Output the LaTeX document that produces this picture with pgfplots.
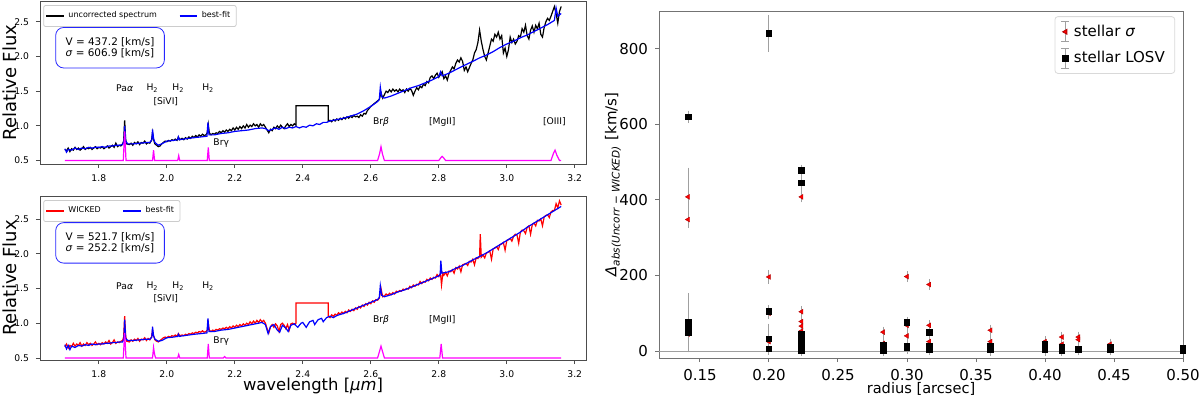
\documentclass[border=0pt]{standalone}
\usepackage{fontspec}
\setmainfont{DejaVu Sans}
\usepackage{pgfplots}
\pgfplotsset{compat=1.18}
\definecolor{mplmag}{RGB}{255,0,255}
\definecolor{mplgray}{RGB}{160,160,160}

\pgfplotsset{
  spec/.style={
    scale only axis, width=273pt,
    xmin=1.627, xmax=3.233,
    xtick={1.8,2.0,2.2,2.4,2.6,2.8,3.0,3.2}, ytick={0.5,1.0,1.5,2.0,2.5},
    tick align=outside, tick pos=left, major tick length=2pt,
    axis line style={black!70, line width=0.4pt}, tick style={black!70, line width=0.4pt},
    ticklabel style={font=\fontsize{4.6}{5}\selectfont},
    /pgf/number format/assume math mode=true,
    xticklabel style={/pgf/number format/.cd, fixed, fixed zerofill, precision=1},
    yticklabel style={/pgf/number format/.cd, fixed, fixed zerofill, precision=1},
    ylabel={Relative Flux},
    every axis y label/.style={at={(rel axis cs:0,0.5)}, xshift=-15pt, rotate=90, anchor=center},
    ylabel style={font=\fontsize{9}{9.5}\selectfont},
    legend columns=2, legend cell align=left,
    legend style={at={(0.006,0.975)}, anchor=north west, font=\fontsize{4}{4.6}\selectfont,
      draw=black!20, rounded corners=1pt, inner sep=1pt,
      /tikz/every even column/.append style={column sep=9pt}},
    legend image code/.code={\draw[#1, line width=0.7pt] (0pt,0pt) -- (8.7pt,0pt);},
  },
}
\tikzset{
  lbl/.style={font=\fontsize{4.6}{5}\selectfont, inner sep=0pt},
  infobox/.style={draw=blue!85, rounded corners=4pt, align=left, anchor=north west,
    inner xsep=5pt, inner ysep=5pt, font=\fontsize{5.2}{5.6}\selectfont},
}

\begin{document}
\begin{tikzpicture}
\useasboundingbox (0,0) rectangle (600pt,198pt);

% top panel: uncorrected spectrum
\begin{axis}[spec, at={(20pt,116pt)}, anchor=south west, height=81.5pt, ymin=0.45, ymax=2.80]
\addplot[black, line width=0.6pt] coordinates {
(1.700,0.66) (1.705,0.64) (1.710,0.68) (1.715,0.63) (1.720,0.67) (1.725,0.65) (1.730,0.69) (1.735,0.66)
(1.740,0.68) (1.745,0.65) (1.750,0.67) (1.755,0.70) (1.760,0.66) (1.765,0.68) (1.770,0.67) (1.775,0.69)
(1.780,0.66) (1.785,0.68) (1.790,0.70) (1.795,0.67) (1.800,0.69) (1.805,0.68) (1.810,0.70) (1.815,0.67)
(1.820,0.69) (1.825,0.71) (1.830,0.68) (1.835,0.70) (1.840,0.72) (1.845,0.69) (1.850,0.75) (1.855,0.70)
(1.860,0.72) (1.865,0.71) (1.870,0.74) (1.873,0.78) (1.876,1.08) (1.879,0.80) (1.882,0.74) (1.890,0.73)
(1.895,0.75) (1.900,0.72) (1.905,0.76) (1.910,0.74) (1.915,0.77) (1.920,0.73) (1.925,0.76) (1.930,0.75)
(1.935,0.78) (1.940,0.74) (1.945,0.76) (1.950,0.75) (1.955,0.79) (1.958,0.90) (1.961,0.80) (1.965,0.74)
(1.970,0.72) (1.975,0.70) (1.980,0.71) (1.985,0.74) (1.990,0.76) (1.995,0.78) (2.000,0.77) (2.005,0.79)
(2.010,0.78) (2.015,0.80) (2.020,0.79) (2.025,0.81) (2.030,0.79) (2.034,0.84) (2.038,0.80) (2.045,0.82)
(2.050,0.80) (2.055,0.83) (2.060,0.81) (2.065,0.84) (2.070,0.82) (2.075,0.85) (2.080,0.83) (2.085,0.86)
(2.090,0.84) (2.095,0.87) (2.100,0.85) (2.105,0.88) (2.110,0.86) (2.115,0.87) (2.119,0.90) (2.122,1.02)
(2.125,0.90) (2.130,0.87) (2.135,0.89) (2.140,0.88) (2.145,0.90) (2.150,0.89) (2.155,0.92) (2.160,0.90)
(2.165,0.93) (2.170,0.91) (2.175,0.94) (2.180,0.92) (2.185,0.95) (2.190,0.93) (2.195,0.97) (2.200,0.94)
(2.205,0.98) (2.210,0.95) (2.215,0.99) (2.220,0.96) (2.225,1.00) (2.230,0.97) (2.235,1.02) (2.240,0.98)
(2.245,1.01) (2.250,0.99) (2.255,1.03) (2.260,1.00) (2.265,1.02) (2.270,0.98) (2.275,1.03) (2.280,1.00)
(2.285,1.02) (2.290,0.98) (2.295,0.94) (2.300,0.90) (2.305,0.95) (2.310,0.93) (2.315,0.98) (2.320,0.96)
(2.325,1.00) (2.330,0.97) (2.335,1.01) (2.340,0.98) (2.345,0.96) (2.350,1.00) (2.355,1.03) (2.360,0.99)
(2.365,1.02) (2.370,1.00) (2.375,1.03) (2.380,1.01) (2.380,1.29) (2.475,1.29) (2.475,1.07) (2.480,1.08)
(2.485,1.06) (2.490,1.09) (2.495,1.07) (2.500,1.10) (2.505,1.08) (2.510,1.11) (2.515,1.09) (2.520,1.12)
(2.525,1.10) (2.530,1.13) (2.535,1.11) (2.540,1.14) (2.545,1.12) (2.550,1.15) (2.555,1.13) (2.560,1.14)
(2.565,1.12) (2.570,1.16) (2.575,1.14) (2.580,1.18) (2.585,1.17) (2.590,1.22) (2.595,1.25) (2.600,1.28)
(2.605,1.30) (2.610,1.32) (2.615,1.34) (2.620,1.36) (2.625,1.38) (2.630,1.48) (2.635,1.40) (2.640,1.45)
(2.645,1.50) (2.650,1.48) (2.655,1.52) (2.660,1.49) (2.665,1.53) (2.670,1.50) (2.675,1.52) (2.680,1.49)
(2.685,1.53) (2.690,1.50) (2.695,1.52) (2.700,1.48) (2.705,1.53) (2.710,1.50) (2.715,1.54) (2.720,1.51)
(2.725,1.44) (2.730,1.50) (2.735,1.55) (2.740,1.52) (2.745,1.57) (2.750,1.55) (2.755,1.60) (2.760,1.58)
(2.765,1.64) (2.770,1.62) (2.775,1.70) (2.780,1.72) (2.785,1.68) (2.790,1.73) (2.795,1.76) (2.800,1.70)
(2.805,1.74) (2.810,1.78) (2.815,1.68) (2.820,1.72) (2.825,1.66) (2.830,1.75) (2.835,1.80) (2.840,1.85)
(2.845,1.82) (2.850,1.90) (2.855,1.95) (2.860,1.92) (2.865,1.98) (2.870,1.93) (2.875,1.80) (2.880,1.85)
(2.885,1.78) (2.890,1.84) (2.895,1.90) (2.900,1.95) (2.905,2.05) (2.910,2.10) (2.915,2.20) (2.920,2.38)
(2.925,2.22) (2.930,2.10) (2.935,2.00) (2.940,1.95) (2.945,2.05) (2.950,2.15) (2.955,2.25) (2.960,2.22)
(2.965,2.32) (2.970,2.28) (2.975,2.35) (2.980,2.25) (2.985,2.30) (2.990,2.05) (2.995,2.12) (3.000,2.00)
(3.005,2.10) (3.010,2.28) (3.015,2.20) (3.020,2.25) (3.025,2.18) (3.030,2.22) (3.035,2.30) (3.040,2.28)
(3.045,2.40) (3.050,2.35) (3.055,2.45) (3.060,2.30) (3.065,2.25) (3.070,2.38) (3.075,2.44) (3.080,2.35)
(3.085,2.45) (3.090,2.40) (3.095,2.48) (3.100,2.32) (3.105,2.28) (3.110,2.42) (3.115,2.50) (3.120,2.55)
(3.125,2.52) (3.130,2.58) (3.135,2.65) (3.140,2.72) (3.145,2.62) (3.150,2.48) (3.155,2.65) (3.160,2.72)
};
\addlegendentry{uncorrected spectrum}
\addplot[blue, line width=0.6pt] coordinates {
(1.700,0.67) (1.705,0.62) (1.710,0.66) (1.720,0.65) (1.730,0.68) (1.740,0.66) (1.750,0.68) (1.760,0.67)
(1.770,0.69) (1.780,0.68) (1.790,0.69) (1.800,0.69) (1.810,0.70) (1.820,0.69) (1.830,0.71) (1.840,0.71)
(1.850,0.72) (1.860,0.72) (1.870,0.73) (1.874,0.78) (1.876,1.00) (1.879,0.78) (1.885,0.74) (1.900,0.74)
(1.920,0.75) (1.940,0.76) (1.950,0.76) (1.956,0.80) (1.958,0.95) (1.961,0.82) (1.965,0.76) (1.975,0.72)
(1.985,0.74) (2.000,0.78) (2.020,0.79) (2.032,0.80) (2.034,0.84) (2.037,0.80) (2.050,0.81) (2.080,0.83)
(2.100,0.84) (2.118,0.85) (2.121,1.05) (2.124,0.87) (2.140,0.87) (2.160,0.89) (2.180,0.90) (2.200,0.92)
(2.220,0.93) (2.240,0.94) (2.260,0.96) (2.280,0.97) (2.290,0.96) (2.300,0.93) (2.310,0.95) (2.320,0.97)
(2.330,0.95) (2.340,0.98) (2.350,0.96) (2.360,0.98) (2.370,0.97) (2.380,0.99) (2.390,0.97) (2.400,0.99)
(2.410,0.98) (2.420,1.01) (2.430,1.00) (2.440,1.03) (2.450,1.02) (2.460,1.05) (2.470,1.05) (2.480,1.07)
(2.500,1.09) (2.520,1.11) (2.540,1.14) (2.560,1.17) (2.580,1.22) (2.600,1.28) (2.620,1.35) (2.625,1.38)
(2.628,1.56) (2.632,1.42) (2.640,1.40) (2.660,1.43) (2.680,1.47) (2.700,1.51) (2.720,1.55) (2.740,1.58)
(2.760,1.62) (2.780,1.66) (2.800,1.71) (2.805,1.78) (2.810,1.72) (2.830,1.76) (2.850,1.81) (2.870,1.86)
(2.900,1.93) (2.920,1.98) (2.940,2.02) (2.960,2.07) (2.980,2.13) (3.000,2.18) (3.020,2.22) (3.040,2.27)
(3.060,2.31) (3.080,2.36) (3.100,2.41) (3.120,2.46) (3.140,2.52) (3.145,2.70) (3.150,2.58) (3.160,2.62)
};
\addlegendentry{best-fit}
\addplot[mplmag, line width=0.6pt, forget plot] coordinates {
(1.700,0.50) (1.872,0.50) (1.876,0.92) (1.880,0.50) (1.958,0.50) (1.961,0.65) (1.964,0.50)
(2.032,0.50) (2.035,0.57) (2.038,0.50) (2.119,0.50) (2.122,0.69) (2.125,0.50)
(2.620,0.50) (2.626,0.60) (2.630,0.70) (2.634,0.60) (2.640,0.50)
(2.800,0.50) (2.806,0.54) (2.810,0.56) (2.814,0.54) (2.820,0.50)
(3.130,0.50) (3.137,0.60) (3.142,0.65) (3.147,0.58) (3.155,0.50) (3.160,0.50)
};
\node[lbl] at (axis cs:1.876,1.54) {Pa\textit{α}};
\node[lbl] at (axis cs:1.958,1.54) {H\textsubscript{2}};
\node[lbl] at (axis cs:2.034,1.54) {H\textsubscript{2}};
\node[lbl] at (axis cs:2.122,1.54) {H\textsubscript{2}};
\node[lbl] at (axis cs:1.997,1.35) {[SiVI]};
\node[lbl] at (axis cs:2.160,0.75) {Brγ};
\node[lbl] at (axis cs:2.630,1.06) {Br\textit{β}};
\node[lbl] at (axis cs:2.810,1.06) {[MgII]};
\node[lbl] at (axis cs:3.140,1.06) {[OIII]};
\node[infobox] at (rel axis cs:0.028,0.84) {V = 437.2 [km/s]\\\textit{σ} = 606.9 [km/s]};
\end{axis}

% bottom panel: WICKED-corrected spectrum
\begin{axis}[spec, at={(20pt,18pt)}, anchor=south west, height=82pt, ymin=0.47, ymax=2.83,
  xlabel={wavelength [\textit{μm}]},
  every axis x label/.style={at={(rel axis cs:0.5,0)}, yshift=-12.8pt, anchor=center},
  xlabel style={font=\fontsize{8.2}{8.6}\selectfont}]
\addplot[red, line width=0.6pt] coordinates {
(1.700,0.66) (1.705,0.70) (1.710,0.64) (1.715,0.68) (1.720,0.66) (1.725,0.71) (1.730,0.67) (1.735,0.70)
(1.740,0.68) (1.745,0.72) (1.750,0.67) (1.755,0.70) (1.760,0.68) (1.765,0.72) (1.770,0.69) (1.775,0.71)
(1.780,0.68) (1.785,0.70) (1.790,0.73) (1.795,0.69) (1.800,0.71) (1.805,0.69) (1.810,0.72) (1.815,0.70)
(1.820,0.73) (1.825,0.71) (1.830,0.75) (1.835,0.70) (1.840,0.72) (1.845,0.76) (1.850,0.71) (1.855,0.73)
(1.860,0.72) (1.865,0.74) (1.870,0.75) (1.873,0.80) (1.876,1.10) (1.879,0.82) (1.882,0.74) (1.890,0.73)
(1.895,0.76) (1.900,0.74) (1.905,0.77) (1.910,0.75) (1.915,0.78) (1.920,0.74) (1.925,0.77) (1.930,0.76)
(1.935,0.79) (1.940,0.75) (1.945,0.78) (1.950,0.76) (1.955,0.80) (1.958,0.90) (1.961,0.82) (1.965,0.76)
(1.970,0.74) (1.975,0.73) (1.980,0.75) (1.985,0.77) (1.990,0.79) (1.995,0.80) (2.000,0.79) (2.005,0.81)
(2.010,0.80) (2.015,0.82) (2.020,0.81) (2.025,0.83) (2.030,0.81) (2.034,0.85) (2.038,0.82) (2.045,0.83)
(2.050,0.82) (2.055,0.84) (2.060,0.83) (2.065,0.85) (2.070,0.84) (2.075,0.86) (2.080,0.85) (2.085,0.87)
(2.090,0.86) (2.095,0.88) (2.100,0.87) (2.105,0.89) (2.110,0.87) (2.115,0.88) (2.119,0.90) (2.122,1.00)
(2.125,0.90) (2.130,0.88) (2.135,0.90) (2.140,0.89) (2.145,0.91) (2.150,0.90) (2.155,0.92) (2.160,0.91)
(2.165,0.93) (2.170,0.92) (2.175,0.94) (2.180,0.92) (2.185,0.95) (2.190,0.93) (2.195,0.96) (2.200,0.94)
(2.205,0.97) (2.210,0.95) (2.215,0.98) (2.220,0.96) (2.225,0.99) (2.230,0.97) (2.235,1.00) (2.240,0.98)
(2.245,1.02) (2.250,0.99) (2.255,1.03) (2.260,1.00) (2.265,1.04) (2.270,1.01) (2.275,1.05) (2.280,1.02)
(2.285,1.04) (2.290,1.00) (2.295,0.92) (2.300,0.86) (2.305,0.95) (2.310,0.98) (2.315,0.94) (2.320,0.99)
(2.325,0.96) (2.330,0.88) (2.335,0.98) (2.340,1.00) (2.345,0.97) (2.350,0.92) (2.355,0.98) (2.360,0.90)
(2.365,0.99) (2.370,1.00) (2.375,0.98) (2.380,1.00) (2.380,1.29) (2.475,1.29) (2.475,1.10) (2.480,1.08)
(2.485,1.12) (2.490,1.10) (2.495,1.13) (2.500,1.11) (2.505,1.15) (2.510,1.13) (2.515,1.16) (2.520,1.14)
(2.525,1.17) (2.530,1.15) (2.535,1.19) (2.540,1.17) (2.545,1.20) (2.550,1.18) (2.555,1.22) (2.560,1.20)
(2.565,1.24) (2.570,1.22) (2.575,1.26) (2.580,1.24) (2.585,1.28) (2.590,1.26) (2.595,1.30) (2.600,1.28)
(2.605,1.32) (2.610,1.30) (2.615,1.34) (2.620,1.33) (2.625,1.36) (2.630,1.50) (2.635,1.38)
(2.640,1.39) (2.645,1.42) (2.650,1.40) (2.655,1.43) (2.660,1.41) (2.665,1.44) (2.670,1.42) (2.675,1.46)
(2.680,1.45) (2.685,1.47) (2.690,1.46) (2.695,1.49) (2.700,1.48) (2.705,1.50) (2.710,1.49) (2.715,1.53)
(2.720,1.51) (2.725,1.55) (2.730,1.53) (2.735,1.56) (2.740,1.55) (2.745,1.60) (2.750,1.57) (2.755,1.60)
(2.760,1.59) (2.765,1.63) (2.770,1.61) (2.775,1.65) (2.780,1.63) (2.785,1.66) (2.790,1.65) (2.795,1.70)
(2.800,1.67) (2.805,1.72) (2.808,1.55) (2.812,1.72) (2.815,1.69) (2.820,1.73) (2.825,1.68) (2.830,1.75)
(2.835,1.74) (2.840,1.77) (2.845,1.72) (2.850,1.80) (2.855,1.78) (2.860,1.82) (2.865,1.74) (2.870,1.84)
(2.875,1.85) (2.880,1.86) (2.885,1.83) (2.890,1.89) (2.895,1.88) (2.900,1.92) (2.905,1.84) (2.910,1.94)
(2.915,1.93) (2.920,1.96) (2.922,2.28) (2.925,1.95) (2.930,1.98) (2.935,1.94) (2.940,2.01) (2.945,2.02)
(2.950,2.04) (2.955,1.92) (2.960,2.07) (2.965,2.08) (2.970,2.10) (2.975,2.06) (2.980,2.13) (2.985,2.14)
(2.990,2.16) (2.995,2.05) (3.000,2.19) (3.005,2.20) (3.010,2.22) (3.015,2.18) (3.020,2.25) (3.025,2.28)
(3.030,2.27) (3.035,2.15) (3.040,2.31) (3.045,2.34) (3.050,2.33) (3.055,2.29) (3.060,2.38) (3.065,2.40)
(3.070,2.28) (3.075,2.42) (3.080,2.44) (3.085,2.40) (3.090,2.48) (3.095,2.47) (3.100,2.50) (3.105,2.40)
(3.110,2.53) (3.115,2.55) (3.120,2.56) (3.125,2.52) (3.130,2.60) (3.135,2.62) (3.140,2.62) (3.145,2.72)
(3.150,2.66) (3.155,2.76) (3.160,2.70)
};
\addlegendentry{WICKED}
\addplot[blue, line width=0.6pt] coordinates {
(1.700,0.69) (1.705,0.63) (1.710,0.68) (1.715,0.62) (1.720,0.67) (1.730,0.65) (1.740,0.68) (1.750,0.67)
(1.760,0.69) (1.770,0.68) (1.780,0.70) (1.790,0.69) (1.800,0.70) (1.810,0.70) (1.820,0.71) (1.830,0.71)
(1.840,0.72) (1.850,0.72) (1.860,0.73) (1.870,0.73) (1.874,0.78) (1.876,1.05) (1.879,0.78) (1.885,0.75)
(1.900,0.75) (1.920,0.76) (1.940,0.77) (1.950,0.77) (1.956,0.80) (1.958,0.95) (1.961,0.82) (1.965,0.77)
(1.975,0.74) (1.985,0.75) (2.000,0.79) (2.020,0.80) (2.032,0.81) (2.034,0.84) (2.037,0.81) (2.050,0.82)
(2.080,0.84) (2.100,0.85) (2.118,0.86) (2.121,1.07) (2.124,0.88) (2.140,0.88) (2.160,0.90) (2.180,0.91)
(2.200,0.93) (2.220,0.95) (2.240,0.97) (2.260,0.99) (2.280,1.01) (2.290,0.98) (2.298,0.85) (2.305,0.95)
(2.315,0.98) (2.325,0.90) (2.332,0.87) (2.340,0.97) (2.350,0.93) (2.357,0.88) (2.365,0.97) (2.375,0.99)
(2.385,0.94) (2.395,1.00) (2.400,1.01) (2.410,0.94) (2.420,1.02) (2.430,1.04) (2.435,0.98) (2.445,1.05)
(2.455,1.07) (2.460,1.02) (2.470,1.08) (2.480,1.10) (2.490,1.08) (2.500,1.11) (2.520,1.14) (2.540,1.18)
(2.560,1.22) (2.580,1.26) (2.600,1.30) (2.620,1.34) (2.625,1.37) (2.628,1.54) (2.632,1.40) (2.640,1.38)
(2.660,1.41) (2.680,1.45) (2.700,1.48) (2.720,1.52) (2.740,1.56) (2.760,1.60) (2.780,1.64) (2.800,1.68)
(2.804,1.70) (2.806,1.90) (2.809,1.72) (2.830,1.74) (2.850,1.79) (2.870,1.83) (2.900,1.91) (2.920,1.96)
(2.940,2.01) (2.960,2.07) (2.980,2.13) (3.000,2.19) (3.020,2.25) (3.040,2.31) (3.060,2.38) (3.080,2.44)
(3.100,2.50) (3.120,2.56) (3.140,2.62) (3.160,2.68)
};
\addlegendentry{best-fit}
\addplot[mplmag, line width=0.6pt, forget plot] coordinates {
(1.700,0.50) (1.872,0.50) (1.876,0.86) (1.880,0.50) (1.958,0.50) (1.961,0.65) (1.964,0.55) (1.967,0.50)
(2.032,0.50) (2.035,0.55) (2.038,0.50) (2.119,0.50) (2.122,0.70) (2.125,0.50)
(2.166,0.50) (2.170,0.52) (2.174,0.50)
(2.620,0.50) (2.626,0.60) (2.630,0.67) (2.634,0.60) (2.640,0.50)
(2.803,0.50) (2.807,0.70) (2.811,0.50) (3.160,0.50)
};
\node[lbl] at (axis cs:1.876,1.53) {Pa\textit{α}};
\node[lbl] at (axis cs:1.958,1.53) {H\textsubscript{2}};
\node[lbl] at (axis cs:2.034,1.53) {H\textsubscript{2}};
\node[lbl] at (axis cs:2.122,1.53) {H\textsubscript{2}};
\node[lbl] at (axis cs:1.997,1.35) {[SiVI]};
\node[lbl] at (axis cs:2.160,0.74) {Brγ};
\node[lbl] at (axis cs:2.630,1.05) {Br\textit{β}};
\node[lbl] at (axis cs:2.810,1.05) {[MgII]};
\node[infobox] at (rel axis cs:0.028,0.84) {V = 521.7 [km/s]\\\textit{σ} = 252.2 [km/s]};
\end{axis}

% right panel: differences vs radius
\begin{axis}[at={(329.5pt,19pt)}, anchor=south west, scale only axis, width=262pt, height=173.5pt,
  xmin=0.1203, xmax=0.5, ymin=-18.5, ymax=900,
  xtick={0.15,0.20,0.25,0.30,0.35,0.40,0.45,0.50}, ytick={0,200,400,600,800},
  tick align=outside, tick pos=left, major tick length=2pt,
  axis line style={black!55, line width=0.5pt}, tick style={black!55, line width=0.5pt},
  ticklabel style={font=\fontsize{7.5}{8}\selectfont},
  /pgf/number format/assume math mode=true,
  xticklabel style={/pgf/number format/.cd, fixed, fixed zerofill, precision=2},
  xlabel={radius [arcsec]},
  every axis x label/.style={at={(rel axis cs:0.5,0)}, yshift=-15.3pt, anchor=center},
  xlabel style={font=\fontsize{7.3}{7.8}\selectfont},
  ylabel={\textit{Δ}\textsubscript{\textit{abs(Uncorr − WICKED)}} [km/s]},
  every axis y label/.style={at={(rel axis cs:0,0.5)}, xshift=-23pt, rotate=90, anchor=center},
  ylabel style={font=\fontsize{7.5}{8}\selectfont},
  legend cell align=left,
  legend style={at={(0.985,0.985)}, anchor=north east, font=\fontsize{7.5}{9}\selectfont,
    draw=black!15, rounded corners=1.5pt, row sep=2pt},
  error bars/y dir=both, error bars/y explicit,
  error bars/error bar style={mplgray, line width=0.5pt},
  error bars/error mark options={mplgray, mark size=2pt, line width=0.5pt},
]
\addplot[mplgray, line width=0.5pt, forget plot, error bars/y dir=none] coordinates {(0.10,0) (0.60,0)};
\addplot[only marks, mark=triangle*, mark size=1.4pt, mark options={rotate=90, fill=red, draw=red!70!black, line width=0.2pt},
  legend image code/.code={
    \draw[mplgray, line width=0.5pt] (6pt,-5pt) -- (6pt,5pt) (4pt,-5pt) -- (8pt,-5pt) (4pt,5pt) -- (8pt,5pt);
    \path plot[mark=triangle*, mark size=1.4pt, mark options={rotate=90, fill=red, draw=red!70!black}] coordinates {(6pt,0pt)};}]
coordinates {
(0.1414,408) +- (0,67) (0.1414,348) +- (0,12) (0.1414,45) +- (0,5)
(0.2,196) +- (0,8) (0.2,100) +- (0,5) (0.2,25) +- (0,5)
(0.2236,408) +- (0,4) (0.2236,104) +- (0,4) (0.2236,78) +- (0,5) (0.2236,66) +- (0,5) (0.2236,53) +- (0,5)
(0.2828,50) +- (0,4) (0.2828,20) +- (0,4)
(0.3,197) +- (0,4) (0.3,68) +- (0,4) (0.3,40) +- (0,4)
(0.3162,176) +- (0,4) (0.3162,68) +- (0,4) (0.3162,25) +- (0,4)
(0.3606,55) +- (0,4) (0.3606,25) +- (0,4)
(0.4,25) +- (0,4)
(0.4123,37) +- (0,4) (0.4123,18) +- (0,4)
(0.4243,37) +- (0,4) (0.4243,30) +- (0,4)
(0.4472,18) +- (0,4)
};
\addlegendentry{stellar \textit{σ}}
\addplot[only marks, mark=square*, mark size=1.4pt, mark options={fill=black, draw=black},
  legend image code/.code={
    \draw[mplgray, line width=0.5pt] (6pt,-5pt) -- (6pt,5pt) (4pt,-5pt) -- (8pt,-5pt) (4pt,5pt) -- (8pt,5pt);
    \path plot[mark=square*, mark size=1.4pt, mark options={fill=black}] coordinates {(6pt,0pt)};}]
coordinates {
(0.1414,620) +- (0,6) (0.1414,75) +- (0,68) (0.1414,62) +- (0,42) (0.1414,48) +- (0,38)
(0.2,840) +- (0,38) (0.2,105) +- (0,5) (0.2,32) +- (0,30) (0.2,6) +- (0,5)
(0.2236,478) +- (0,5) (0.2236,445) +- (0,10) (0.2236,45) +- (0,5) (0.2236,35) +- (0,5)
(0.2236,25) +- (0,5) (0.2236,15) +- (0,5) (0.2236,8) +- (0,5) (0.2236,2) +- (0,5)
(0.2828,15) +- (0,5) (0.2828,8) +- (0,5) (0.2828,2) +- (0,5)
(0.3,75) +- (0,5) (0.3,14) +- (0,5) (0.3,8) +- (0,5)
(0.3162,50) +- (0,5) (0.3162,12) +- (0,5) (0.3162,4) +- (0,5)
(0.3606,12) +- (0,5) (0.3606,3) +- (0,5)
(0.4,18) +- (0,5) (0.4,3) +- (0,5)
(0.4123,10) +- (0,5) (0.4123,2) +- (0,5)
(0.4243,4) +- (0,5)
(0.4472,10) +- (0,5) (0.4472,4) +- (0,5)
(0.5,8) +- (0,5) (0.5,2) +- (0,5)
};
\addlegendentry{stellar LOSV}
\end{axis}
\end{tikzpicture}
\end{document}
